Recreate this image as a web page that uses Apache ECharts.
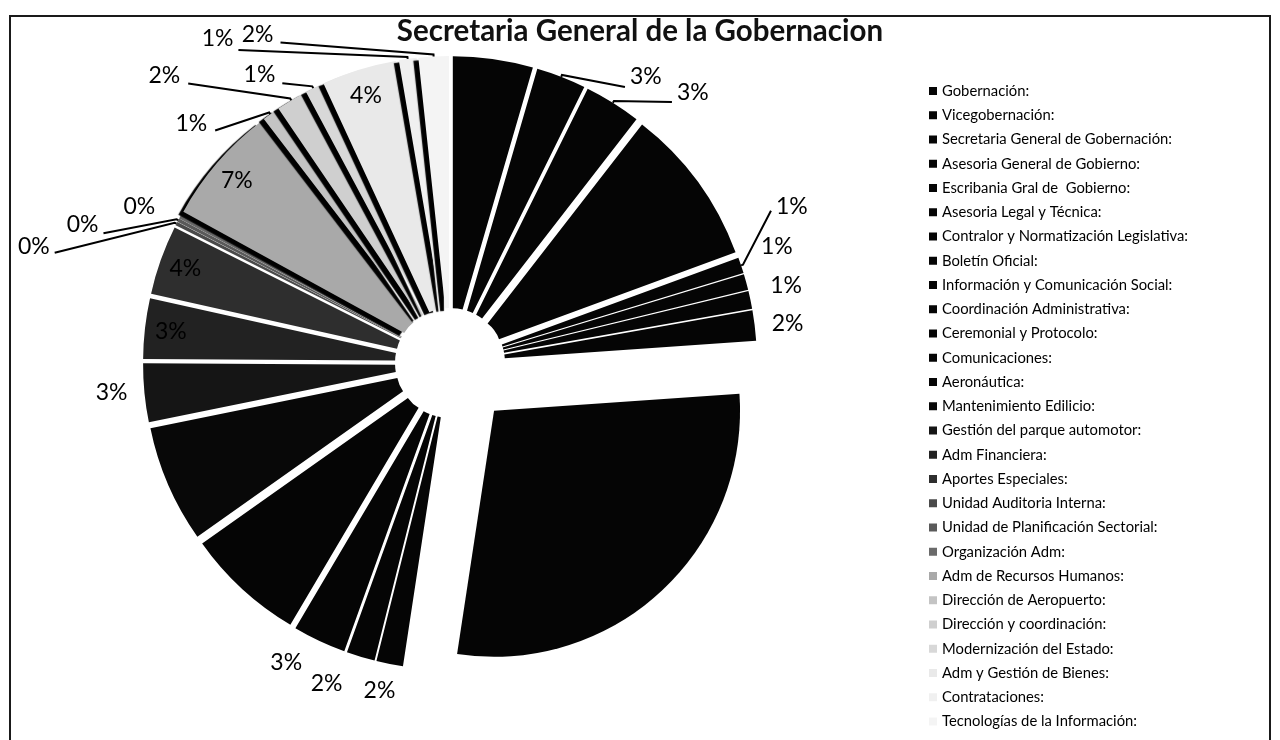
<!DOCTYPE html>
<html>
<head>
<meta charset="utf-8">
<title>Secretaria General de la Gobernacion</title>
<script src="https://cdn.jsdelivr.net/npm/echarts@6/dist/echarts.min.js"></script>
<style>
  html, body { margin: 0; padding: 0; background: #fff; }
  #chart { width: 1280px; height: 740px; }
  .frame {
    position: absolute; left: 9px; top: 15px; width: 1262px; height: 800px;
    border: 2px solid #1a1a1a; box-sizing: border-box; pointer-events: none;
  }
</style>
</head>
<body>
<div id="chart"></div>
<div class="frame"></div>
<script>
// categories (legend order = slice order, clockwise from 12 o'clock)
const names = [
  'Gobernación:', 'Vicegobernación:', 'Secretaria General de Gobernación:',
  'Asesoria General de Gobierno:', 'Escribania Gral de  Gobierno:',
  'Asesoria Legal y Técnica:', 'Contralor y Normatización Legislativa:',
  'Boletín Oficial:', 'Información y Comunicación Social:',
  'Coordinación Administrativa:', 'Ceremonial y Protocolo:', 'Comunicaciones:',
  'Aeronáutica:', 'Mantenimiento Edilicio:', 'Gestión del parque automotor:',
  'Adm Financiera:', 'Aportes Especiales:', 'Unidad Auditoria Interna:',
  'Unidad de Planificación Sectorial:', 'Organización Adm:',
  'Adm de Recursos Humanos:', 'Dirección de Aeropuerto:',
  'Dirección y coordinación:', 'Modernización del Estado:',
  'Adm y Gestión de Bienes:', 'Contrataciones:', 'Tecnologías de la Información:'
]

// share of budget, %
const values = [
  4.5, 2.8, 3.2, 8.9, 0.9, 0.9, 1.0, 1.7, 28.5,
  1.5, 1.6, 3.0, 6.7, 6.6, 3.3, 3.4, 3.9, 0.2,
  0.2, 0.2, 6.6, 0.9, 1.7, 0.9, 4.2, 1.0, 1.7
]

// fill of each slice (scanned greys)
const fills = [
  '#050505', '#050505', '#050505', '#050505', '#050505', '#050505', '#050505',
  '#050505', '#050505', '#050505', '#050505', '#050505', '#050505', '#080808',
  '#151515', '#222222', '#2e2e2e', '#4a4a4a', '#5a5a5a', '#6a6a6a',
  '#a9a9a9', '#c4c4c4', '#cfcfcf', '#d8d8d8', '#e9e9e9', '#f0f0f0', '#f4f4f4'
]
const shadowFrom = 20 // light slices carry a hard drop shadow
const bigSlice = 8 // exploded further than the others

// labels printed black on black slices cannot be read in the scan
const hiddenLabels = [0, 3, 8, 12, 13]

// label plan: [line, length, length2, labelDx, labelDy, lineEndDx, lineEndDy]
// a negative length pulls the label back inside the slice (Excel "inside end")
const labelPlan = [
  [false, -27, 0, -20, 0],
  [true, 2, 63, 0, 2, 0, 12],
  [true, 2, 58, 0, -8, 0, 1],
  [false, -27, 0, -20, 0],
  [true, 2, 28, 0, -58, 0, -54],
  [false, 5, 5, 0, -34],
  [false, 8, 7, 0, -13],
  [false, 8, 4, 0, -1],
  [false, -27, 0, -20, 0],
  [false, 27, 0, 16, 0],
  [false, 28, 5],
  [false, 24, 2],
  [false, -27, 0, 20, 0],
  [false, -27, 0, 20, 0],
  [false, 0, 12],
  [false, -27, 0, 20, 0],
  [false, -27, 0, 20, 0],
  [true, 2, 120, 0, 24, 0, 30],
  [true, 2, 73, 0, 5, 0, 14],
  [false, 2, 18, 0, -9],
  [false, -27, 0, 20, 0],
  [true, 2, 54, -3, 11, 0, 18],
  [true, 2, 102, -3, -23, 0, -15],
  [true, 2, 30, -2, -12, 0, -3],
  [false, -27, 0, 20, 0],
  [true, 2, 169, 0, -18, 0, -7],
  [true, 2, 153, -2, -20, 0, -12]
]

const center = [450, 363]
const font = 'Lato, "Open Sans", sans-serif'
const clear = 'rgba(0,0,0,0)'

const chart = echarts.init(document.getElementById('chart'), null, { renderer: 'canvas' })

const textLook = {
  color: '#000',
  fontFamily: font,
  fontSize: 23,
  textBorderColor: clear,
  textBorderWidth: 0,
  textShadowBlur: 0
}

const base = {
  type: 'pie',
  center: center,
  startAngle: 90,
  clockwise: true,
  selectedMode: 'multiple',
  avoidLabelOverlap: false,
  silent: true,
  select: { itemStyle: { borderWidth: 0 } }
}

function sliceStyle(i) {
  let s = { color: fills[i], borderWidth: 0 }
  if (i >= shadowFrom) {
    s.shadowColor = '#000'
    s.shadowBlur = 1
    s.shadowOffsetX = -5
    s.shadowOffsetY = 3
  }
  return s
}

chart.setOption({
  animation: false,
  title: {
    text: 'Secretaria General de la Gobernacion',
    left: 'center',
    top: 11,
    textStyle: { fontFamily: font, fontWeight: 'bold', fontSize: 29.5, color: '#111' }
  },
  legend: {
    orient: 'vertical',
    left: 924,
    top: 78,
    icon: 'rect',
    itemWidth: 8,
    itemHeight: 8,
    itemGap: 8.25,
    selectedMode: false,
    textStyle: { fontFamily: font, fontSize: 14.8, color: '#000', lineHeight: 16 },
    data: names.map((n, i) => ({
      name: n,
      itemStyle: { color: fills[i], borderWidth: 0, shadowBlur: 0, shadowOffsetX: 0, shadowOffsetY: 0 }
    }))
  },
  series: [
    // all slices but the big one
    Object.assign({}, base, {
      name: 'slices',
      radius: [35, 287],
      selectedOffset: 20,
      z: 2,
      label: { show: false },
      labelLine: { show: false },
      data: values.map((v, i) => ({
        name: names[i],
        value: v,
        selected: true,
        itemStyle: i === bigSlice ? { color: clear } : sliceStyle(i)
      }))
    }),
    // Información y Comunicación Social, pulled out further
    Object.assign({}, base, {
      name: 'big',
      radius: [0, 246],
      selectedOffset: 65,
      z: 2,
      label: { show: false },
      labelLine: { show: false },
      data: values.map((v, i) => ({
        name: names[i],
        value: v,
        selected: true,
        itemStyle: i === bigSlice ? sliceStyle(i) : { color: clear }
      }))
    }),
    // percentage labels, same geometry as the slices
    Object.assign({}, base, {
      name: 'labels',
      radius: [233, 287],
      selectedOffset: 20,
      z: 3,
      itemStyle: { color: clear },
      label: Object.assign({ position: 'outside', formatter: p => Math.round(p.percent) + '%' }, textLook),
      labelLine: { lineStyle: { color: '#000', width: 2 } },
      labelLayout: p => {
        const s = labelPlan[p.dataIndex]
        const out = { dx: s[3] || 0, dy: s[4] || 0 }
        const pts = p.labelLinePoints
        if (s[0] && pts && pts.length === 3) {
          out.labelLinePoints = [
            pts[0].slice(),
            pts[1].slice(),
            [pts[2][0] + (s[5] || 0), pts[2][1] + (s[6] || 0)]
          ]
        }
        return out
      },
      data: values.map((v, i) => {
        const s = labelPlan[i]
        const shown = hiddenLabels.indexOf(i) < 0
        return {
          name: names[i],
          value: v,
          selected: true,
          itemStyle: { color: clear },
          label: Object.assign({ position: 'outside', show: shown }, textLook),
          labelLine: { show: shown && s[0], length: s[1], length2: s[2] }
        }
      })
    })
  ]
})
</script>
</body>
</html>
